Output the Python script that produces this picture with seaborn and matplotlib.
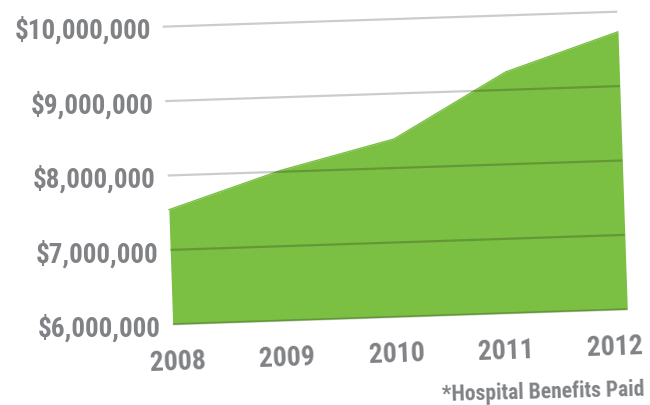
import matplotlib
matplotlib.use('Agg')
import matplotlib.pyplot as plt
import seaborn as sns
import numpy as np
import pandas as pd
from matplotlib.transforms import Affine2D

# ---- data ----
years = ['2008', '2009', '2010', '2011', '2012']
benefits = [7540000, 8020000, 8390000, 9240000, 9730000]
ytick_values = [6000000, 7000000, 8000000, 9000000, 10000000]
ytick_labels = ['$6,000,000', '$7,000,000', '$8,000,000', '$9,000,000', '$10,000,000']
footnote = '*Hospital Benefits Paid'

GREEN = '#7bbf43'
GRAY = '#808285'

sns.set_theme(style='white')
plt.rcParams['font.family'] = ['Roboto Condensed', 'Liberation Sans', 'DejaVu Sans']

W, H = 650, 405
fig = plt.figure(figsize=(W / 100, H / 100), dpi=100)
ox, oy = 172.7, H - 324.3
pw, ph = 454.6, 297.6
ax = fig.add_axes([ox / W, oy / H, pw / W, ph / H])
ax.set_xlim(0, len(years) - 1)
ax.set_ylim(ytick_values[0], ytick_values[-1])
ax.axis('off')

# perspective-like shear in display space
kx = -10 / ph
ky = 15 / pw
skew = (Affine2D().translate(-ox, -oy)
        + Affine2D.from_values(1, ky, kx, 1, 0, 0)
        + Affine2D().translate(ox, oy))
T = ax.transData + skew

df = pd.DataFrame({'idx': np.arange(len(years)), 'value': benefits})

fill = ax.fill_between(df['idx'], df['value'], ytick_values[0], color=GREEN,
                       lw=0, clip_on=False, zorder=1)
fill.set_transform(T)

sns.lineplot(data=df, x='idx', y='value', ax=ax, color=GREEN, lw=1, zorder=2)
for ln in ax.lines:
    ln.set_transform(T)
    ln.set_clip_on(False)

grid = ax.hlines(ytick_values, 0, len(years) - 1, colors='black', alpha=0.2,
                 lw=1.6, zorder=3, clip_on=False)
grid.set_transform(T)

for v, lab in zip(ytick_values, ytick_labels):
    ax.text(-0.105, v - 0.05e6, lab, transform=T, ha='right', va='center',
            fontsize=19.5, fontweight='bold', color=GRAY, clip_on=False)

for i, yr in enumerate(years):
    ax.text(0.035 + i * 0.961, ytick_values[0] - 0.51e6, yr, transform=T,
            ha='center', va='center', fontsize=20, fontweight='bold',
            color=GRAY, rotation=2, rotation_mode='anchor', clip_on=False)

fig.text(645 / W, (H - 392) / H, footnote, ha='right', va='center',
         fontsize=15.5, fontweight='bold', color=GRAY, rotation=1.5)

fig.savefig('out.png', dpi=100)
